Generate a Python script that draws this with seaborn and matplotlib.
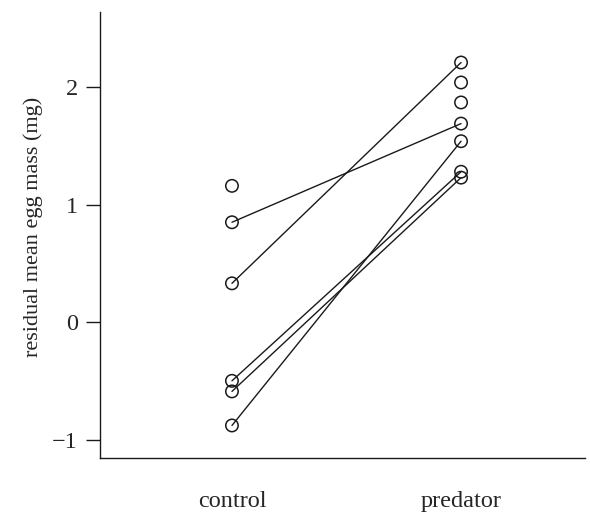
import matplotlib
matplotlib.use("Agg")
import matplotlib.pyplot as plt
import numpy as np
import pandas as pd
import seaborn as sn

groups = ["control", "predator"]

# all points
control_vals = [1.16, 0.85, 0.33, -0.50, -0.59, -0.88]
predator_vals = [2.21, 2.04, 1.87, 1.69, 1.54, 1.28, 1.23]

# paired females (control -> predator)
pair_control = [0.85, 0.33, -0.50, -0.59, -0.88]
pair_predator = [1.69, 2.21, 1.28, 1.23, 1.54]

sn.set_style("ticks")
plt.rcParams['font.family'] = ['Liberation Serif', 'DejaVu Serif']

pts = pd.DataFrame({
    "x": [0] * len(control_vals) + [1] * len(predator_vals),
    "y": control_vals + predator_vals,
})
pairs = pd.DataFrame({
    "x": [0] * len(pair_control) + [1] * len(pair_predator),
    "y": pair_control + pair_predator,
    "id": list(range(len(pair_control))) * 2,
})

fig = plt.figure(figsize=(5.9, 5.13), dpi=100)
ax = fig.add_axes([0.1695, 0.1072, 0.822, 0.8694])

sn.lineplot(data=pairs, x="x", y="y", units="id", estimator=None,
            color="#1a1a1a", linewidth=1.0, ax=ax, legend=False)
sn.scatterplot(data=pts, x="x", y="y", marker="o", s=80,
               facecolor="none", edgecolor="#1a1a1a", linewidth=1.1,
               ax=ax, legend=False, zorder=3)

ax.set_xlim(-0.576, 1.541)
ax.set_ylim(-1.157, 2.64)
ax.set_xticks([0, 1])
ax.set_xticklabels(groups, fontsize=17.5)
ax.set_yticks([-1, 0, 1, 2])
ax.set_yticklabels(["\u22121", "0", "1", "2"], fontsize=17.5)
ax.tick_params(axis="x", length=0, pad=24)
ax.tick_params(axis="y", length=10, width=1.0, pad=6, color="#1a1a1a")
ax.set_xlabel("")
ax.set_ylabel("residual mean egg mass (mg)", fontsize=16)
ax.yaxis.set_label_coords(-0.1175, 0.518)
sn.despine(ax=ax)
for s in ["left", "bottom"]:
    ax.spines[s].set_linewidth(1.0)
    ax.spines[s].set_color("#1a1a1a")

fig.savefig("out.png", dpi=100)
